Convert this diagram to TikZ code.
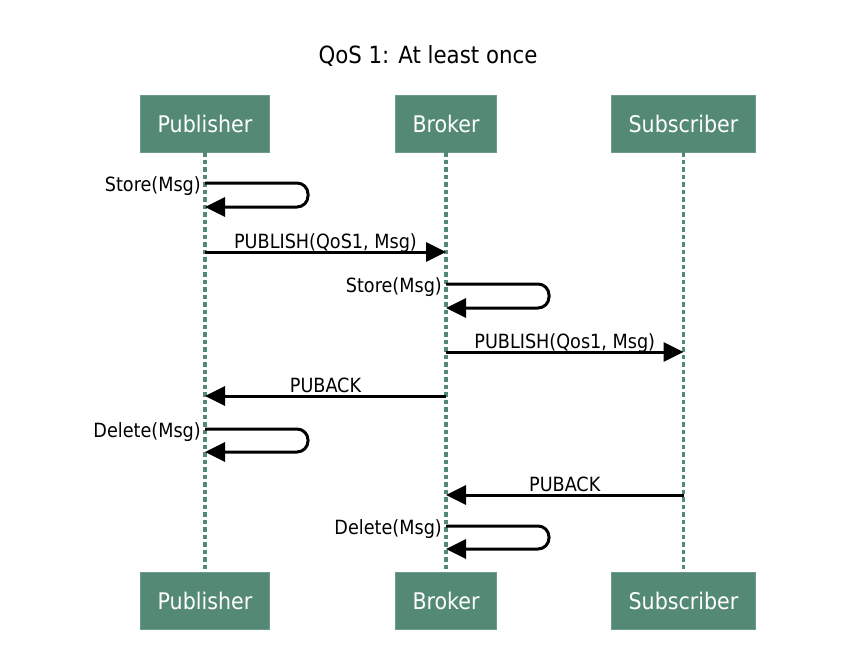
\documentclass[tikz,border=0pt]{standalone}
\usepackage{fontspec}
\setmainfont{DejaVu Sans Condensed}
\usepackage{tikz}
\usetikzlibrary{arrows.meta}

\definecolor{lifegreen}{RGB}{84,138,117}

\begin{document}
\begin{tikzpicture}[x=1pt, y=-1pt,
	actor/.style={fill=lifegreen, draw=lifegreen!85!white, line width=0.8pt, text=white,
		font=\fontsize{22.9}{27}\selectfont, inner xsep=17pt, minimum height=57pt},
	lifeline/.style={draw=lifegreen, line width=3.6pt, dash pattern=on 4.5pt off 3pt},
	msg/.style={draw=black, line width=3pt, -{Triangle[length=20pt,width=19pt]}},
	loopmsg/.style={msg, rounded corners=11pt},
	lbl/.style={font=\fontsize{19.6}{23}\selectfont, inner sep=0pt}]
\useasboundingbox (0,0) rectangle (853,664);

\node[anchor=base, font=\fontsize{23.7}{28}\selectfont] (title) at (428,63) {QoS 1: At least once};

\node[actor] (pubTop) at (205,123.5) {Publisher};
\node[actor] (brkTop) at (446,123.5) {Broker};
\node[actor] (subTop) at (683.5,123.5) {Subscriber};
\node[actor] (pubBot) at (205,601) {Publisher};
\node[actor] (brkBot) at (446,601) {Broker};
\node[actor] (subBot) at (683.5,601) {Subscriber};

\draw[lifeline] (pubTop.south) -- (pubBot.north);
\draw[lifeline] (brkTop.south) -- (brkBot.north);
\draw[lifeline] (subTop.south) -- (subBot.north);

% publisher stores the message
\draw[loopmsg] (pubTop |- 0,183) -- ++(103,0) -- ++(0,24) -- (pubTop |- 0,207);
\node[lbl, anchor=east] (store1) at ([xshift=-4pt]pubTop |- 0,186) {Store(Msg)};

\draw[msg] (pubTop |- 0,252) -- node[lbl, anchor=base, yshift=4pt] (pub1) {PUBLISH(QoS1, Msg)} (brkTop |- 0,252);

% broker stores the message
\draw[loopmsg] (brkTop |- 0,284) -- ++(103,0) -- ++(0,24) -- (brkTop |- 0,308);
\node[lbl, anchor=east] (store2) at ([xshift=-4pt]brkTop |- 0,287) {Store(Msg)};

\draw[msg] (brkTop |- 0,352) -- node[lbl, anchor=base, yshift=4pt] (pub2) {PUBLISH(Qos1, Msg)} (subTop |- 0,352);
\draw[msg] (brkTop |- 0,396) -- node[lbl, anchor=base, yshift=4pt] (ack1) {PUBACK} (pubTop |- 0,396);

\draw[loopmsg] (pubTop |- 0,429) -- ++(103,0) -- ++(0,23) -- (pubTop |- 0,452);
\node[lbl, anchor=east] (del1) at ([xshift=-4pt]pubTop |- 0,432) {Delete(Msg)};

\draw[msg] (subTop |- 0,495) -- node[lbl, anchor=base, yshift=4pt] (ack2) {PUBACK} (brkTop |- 0,495);

\draw[loopmsg] (brkTop |- 0,526) -- ++(103,0) -- ++(0,23) -- (brkTop |- 0,549);
\node[lbl, anchor=east] (del2) at ([xshift=-4pt]brkTop |- 0,529) {Delete(Msg)};

\end{tikzpicture}
\end{document}
